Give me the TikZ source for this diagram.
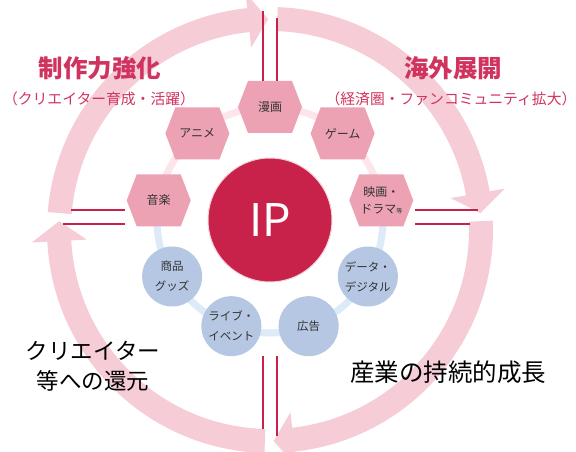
\documentclass[tikz,border=0pt]{standalone}
\usepackage{fontspec}
\setmainfont{Noto Sans CJK JP}
\usetikzlibrary{calc}
\definecolor{ringpink}{HTML}{F6CDD7}
\definecolor{crim}{HTML}{C8224A}
\definecolor{labred}{HTML}{D0345E}
\definecolor{hexpink}{HTML}{EDA2B4}
\definecolor{circblue}{HTML}{B5C7E2}
\definecolor{linkpink}{HTML}{FCE6EB}
\definecolor{linkblue}{HTML}{DCEBF7}
\definecolor{nodetext}{HTML}{333333}
\begin{document}
\begin{tikzpicture}[x=1pt,y=1pt,
  hexbox/.style={shape=rectangle, draw=none, inner sep=0pt, minimum width=64pt, minimum height=52pt,
    align=center, text=nodetext, font=\fontsize{12}{17}\selectfont},
  circbox/.style={shape=circle, fill=circblue, inner sep=0pt, minimum size=60pt,
    align=center, text=nodetext, font=\fontsize{11.5}{20}\selectfont},
  ipbox/.style={shape=circle, fill=crim, draw=white!80!crim, line width=1pt, inner sep=0pt, minimum size=124pt,
    text=white, font=\fontsize{45}{50}\selectfont},
  dbl/.style={draw=crim, line width=1.3pt},
  redlab/.style={text=labred, inner sep=0pt},
  blacklab/.style={text=black, inner sep=0pt, align=center}]
\useasboundingbox (0,0) rectangle (576,452);
\clip (0,0) rectangle (576,452);
\fill[white] (0,0) rectangle (576,452);
% outer cycle of four arrows
\coordinate (C) at (270,222);
\foreach \s/\b/\t in {88/10/4.6, 2.4/-83.6/-89, -91.4/-177/-182.4, 175.4/95.9/90.5}{
  \fill[ringpink] ($(C)+(\s:223pt)$) arc[start angle=\s, end angle=\b, radius=223pt]
    -- ($(C)+(\b:238.5pt)$) -- ($(C)+(\t:211pt)$) -- ($(C)+(\b:183.5pt)$)
    -- ($(C)+(\b:199pt)$) arc[start angle=\b, end angle=\s, radius=199pt] -- cycle;
}
% ring linking the nodes
\coordinate (K) at (270,232);
\draw[linkpink, line width=7pt] ($(K)+(10:113pt)$) arc[start angle=10, end angle=170, radius=113pt];
\draw[linkblue, line width=7pt] ($(K)+(170:113pt)$) arc[start angle=170, end angle=370, radius=113pt];
% hexagon nodes
\foreach \n/\a/\txt in {manga/90/{漫画}, anime/130/{アニメ}, ongaku/170/{音楽}, game/50/{ゲーム}, eiga/10/{映画・\\ドラマ{\fontsize{6}{6}\selectfont 等}}}{
  \coordinate (\n c) at ($(K)+(\a:113pt)$);
  \fill[hexpink] ($(\n c)+(-32,0)$) -- ++(10,26) -- ++(44,0) -- ++(10,-26) -- ++(-10,-26) -- ++(-44,0) -- cycle;
  \node[hexbox] (\n) at (\n c) {\txt};
}
% circle nodes
\node[circbox] (goods) at ($(K)+(210:113pt)$) {商品\\グッズ};
\node[circbox] (live) at ($(K)+(250:113pt)$) {ライブ・\\イベント};
\node[circbox] (ad) at ($(K)+(290:113pt)$) {広告};
\node[circbox] (data) at ($(K)+(330:113pt)$) {データ・\\デジタル};
% centre
\node[ipbox] (ip) at (K) {IP};
% double lines through the gaps
\coordinate (t1) at (263,441);
\coordinate (t2) at (277,434);
\draw[dbl] (t1) -- (t1 |- manga.north);
\draw[dbl] (t2) -- (t2 |- manga.north);
\coordinate (b1) at (263,23);
\coordinate (b2) at (277,16);
\draw[dbl] (b1) -- (b1 |- live.south);
\draw[dbl] (b2) -- (b2 |- live.south);
\coordinate (l1) at (71,242);
\coordinate (l2) at (63,228);
\draw[dbl] (l1) -- ($(l1 -| ongaku.west)+(-2,0)$);
\draw[dbl] (l2) -- ($(l2 -| ongaku.west)+(-2,0)$);
\coordinate (r1) at (478,242);
\coordinate (r2) at (470,228);
\draw[dbl] (r1) -- ($(r1 -| eiga.east)+(2,0)$);
\draw[dbl] (r2) -- ($(r2 -| eiga.east)+(2,0)$);
% labels
\node[redlab, font=\bfseries\fontsize{24.5}{28}\selectfont] (lab1) at (100,384) {制作力強化};
\node[redlab, font=\fontsize{14.8}{18}\selectfont] (lab1s) at (99,353) {（クリエイター育成・活躍）};
\node[redlab, font=\bfseries\fontsize{24.5}{28}\selectfont] (lab2) at (453,384) {海外展開};
\node[redlab, font=\fontsize{14.8}{18}\selectfont] (lab2s) at (451,353) {（経済圏・ファンコミュニティ拡大）};
\node[blacklab, font=\fontsize{22.5}{30}\selectfont] (lab3) at (93,86) {クリエイター\\等への還元};
\node[blacklab, font=\fontsize{24.5}{28}\selectfont] (lab4) at (448,80) {産業の持続的成長};
\end{tikzpicture}
\end{document}
